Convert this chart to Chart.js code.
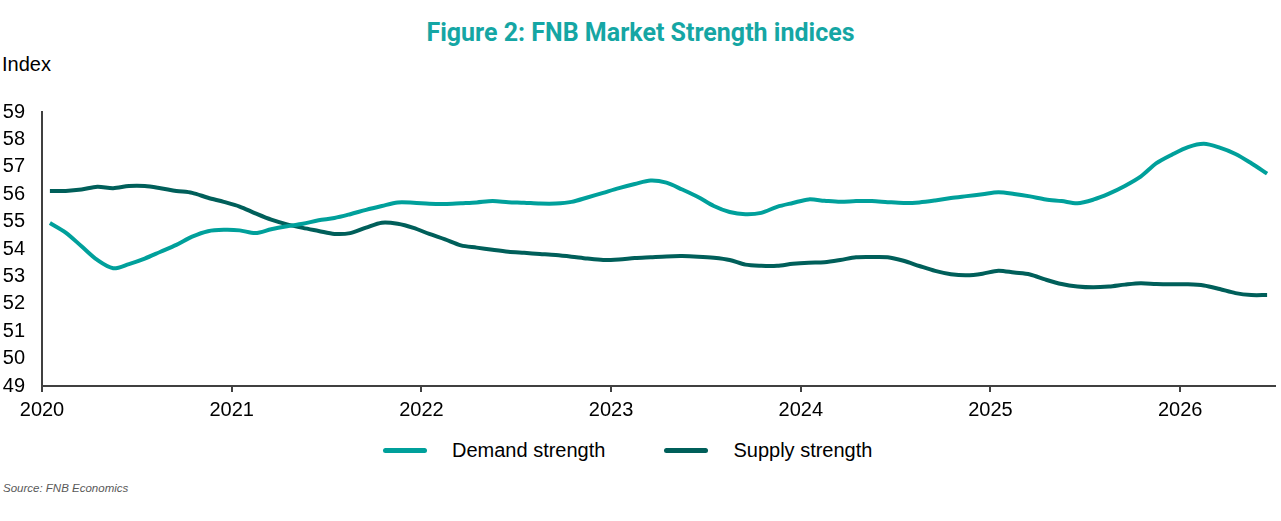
<!DOCTYPE html>
<html>
<head>
<meta charset="utf-8">
<script src="https://cdn.jsdelivr.net/npm/chart.js@4.4.1/dist/chart.umd.min.js"></script>
<style>
    body { margin: 0; background: #fff; }
    #page { position: relative; width: 1281px; height: 521px; overflow: hidden; background: #fff; }
    #titulo { position: absolute; top: 18px; left: 0; width: 1281px; text-align: center;
        font: bold 25px Roboto, "Liberation Sans", sans-serif; line-height: 30px; color: #15a6a4; }
    #ejeY { position: absolute; top: 53px; left: 2px; font: 20px "Liberation Sans", Arial, sans-serif;
        line-height: 22px; color: #000; }
    #wrap { position: absolute; top: 0; left: 0; width: 1281px; height: 430px; }
    #leyenda { position: absolute; top: 438px; left: 383px; height: 24px; display: flex; align-items: center;
        font: 20px "Liberation Sans", Arial, sans-serif; color: #000; }
    #leyenda .linea { display: inline-block; width: 44px; height: 5px; border-radius: 3px; }
    #fuente { position: absolute; top: 481px; left: 3px; font: italic 11.5px "Liberation Sans", Arial, sans-serif;
        line-height: 14px; color: #595959; }
</style>
</head>
<body>
<div id="page">
    <div id="titulo">Figure 2: FNB Market Strength indices</div>
    <div id="ejeY">Index</div>
    <div id="wrap"><canvas id="chartIndices"></canvas></div>
    <div id="leyenda"></div>
    <div id="fuente">Source: FNB Economics</div>
</div>

<script>
// series mensuales, ene 2020 - jun 2026
const demand = [
    54.95, 54.6, 54.1, 53.6, 53.3, 53.45, 53.65, 53.9, 54.15, 54.45, 54.65, 54.7,
    54.68, 54.58, 54.72, 54.83, 54.92, 55.05, 55.13, 55.27, 55.43, 55.57, 55.7, 55.69,
    55.65, 55.64, 55.67, 55.7, 55.75, 55.71, 55.69, 55.66, 55.66, 55.72, 55.88, 56.05,
    56.22, 56.37, 56.5, 56.42, 56.17, 55.9, 55.57, 55.35, 55.27, 55.32, 55.54, 55.68,
    55.81, 55.76, 55.72, 55.75, 55.75, 55.71, 55.68, 55.7, 55.77, 55.86, 55.93, 56.0,
    56.07, 56.01, 55.92, 55.81, 55.75, 55.67, 55.8, 56.02, 56.3, 56.64, 57.13, 57.45,
    57.72, 57.84, 57.7, 57.47, 57.13, 56.75
]

const supply = [
    56.12, 56.12, 56.17, 56.27, 56.22, 56.3, 56.3, 56.22, 56.12, 56.05, 55.87, 55.72,
    55.55, 55.3, 55.07, 54.9, 54.77, 54.66, 54.55, 54.58, 54.78, 54.96, 54.92, 54.77,
    54.55, 54.35, 54.13, 54.05, 53.97, 53.9, 53.86, 53.82, 53.78, 53.72, 53.65, 53.6,
    53.62, 53.67, 53.7, 53.73, 53.74, 53.72, 53.68, 53.6, 53.43, 53.39, 53.39, 53.46,
    53.5, 53.52, 53.6, 53.7, 53.71, 53.7, 53.57, 53.38, 53.2, 53.08, 53.04, 53.1,
    53.21, 53.14, 53.07, 52.88, 52.72, 52.63, 52.6, 52.63, 52.7, 52.75, 52.72, 52.71,
    52.71, 52.67, 52.54, 52.39, 52.32, 52.32
]

const seriesNames = ['Demand strength', 'Supply strength']
const seriesColors = ['#00a09b', '#005f5a']
const yearTicks = [2020, 2021, 2022, 2023, 2024, 2025, 2026]
const yTicks = [49, 50, 51, 52, 53, 54, 55, 56, 57, 58, 59]

// etiquetas de mes 'YYYY-MM'
const months = []
for (let i = 0; i < demand.length; i++) {

    const y = 2020 + Math.floor(i / 12)
    const m = (i % 12) + 1
    months.push(`${y}-${String(m).padStart(2, '0')}`)
}

// cada mes se ubica a mitad de mes sobre el eje de años
const toYear = (label) => {

    const [y, m] = label.split('-').map(Number)
    return y + (m - 0.5) / 12
}

const toPoints = (values) => months.map((m, i) => ({ x: toYear(m), y: values[i] }))

const fontTicks = { family: "'Liberation Sans', Arial, sans-serif", size: 20 }

const ctx = document.getElementById('chartIndices').getContext('2d')

const chart = new Chart(ctx, {
    type: 'line',
    data: {
        datasets: [demand, supply].map((values, k) => ({
            label: seriesNames[k],
            data: toPoints(values),
            borderColor: seriesColors[k],
            backgroundColor: seriesColors[k],
            borderWidth: 4,
            pointRadius: 0,
            tension: 0.3,
            fill: false
        }))
    },

    options: {
        responsive: true,
        maintainAspectRatio: false,
        animation: false,
        layout: { padding: { top: 112, left: 3, right: 6, bottom: 2 } },
        plugins: {
            legend: { display: false },
            title: { display: false },
            tooltip: { enabled: false }
        },
        scales: {
            x: {
                type: 'linear',
                min: 2020,
                max: 2026.5,
                afterBuildTicks: scale => { scale.ticks = yearTicks.map(v => ({ value: v })) },
                ticks: {
                    callback: v => String(v),
                    font: fontTicks,
                    color: '#000',
                    padding: 6,
                    maxRotation: 0,
                    autoSkip: false
                },
                grid: { display: true, drawOnChartArea: false, drawTicks: true, tickLength: 6, color: '#404040', lineWidth: 2 },
                border: { display: true, color: '#404040', width: 2 }
            },
            y: {
                min: 49,
                max: 59,
                afterBuildTicks: scale => { scale.ticks = yTicks.map(v => ({ value: v })) },
                afterFit: scale => { scale.width = 39 },
                ticks: { font: fontTicks, color: '#000', padding: 17 },
                grid: { display: false, drawTicks: false },
                border: { display: true, color: '#404040', width: 2 }
            }
        }
    }
})

// leyenda en html, armada desde los datasets
const leyenda = document.getElementById('leyenda')
chart.data.datasets.forEach((ds, k) => {

    const linea = document.createElement('span')
    linea.className = 'linea'
    linea.style.background = ds.borderColor
    if (k > 0) linea.style.marginLeft = '59px'

    const texto = document.createElement('span')
    texto.innerText = ds.label
    texto.style.marginLeft = '25px'

    leyenda.appendChild(linea)
    leyenda.appendChild(texto)
})
</script>
</body>
</html>
